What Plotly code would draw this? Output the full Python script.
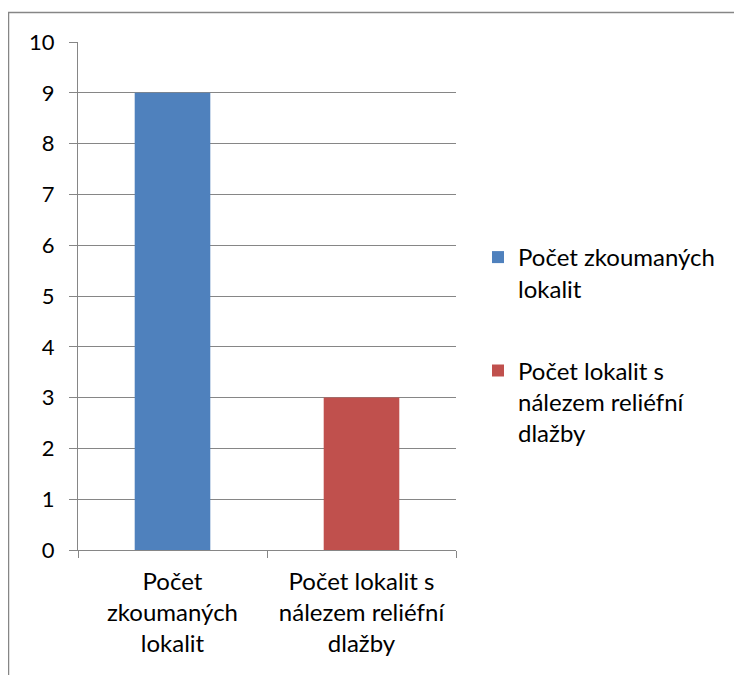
import plotly.graph_objects as go

# data
categories = ["Počet<br>zkoumaných<br>lokalit", "Počet lokalit s<br>nálezem reliéfní<br>dlažby"]
series_names = ["Počet zkoumaných<br>lokalit", "Počet lokalit s<br>nálezem reliéfní<br>dlažby"]
values = [9, 3]
colors = ["#4F81BD", "#C0504D"]

W, H = 742, 675
L, R, T, B = 70, 294, 34, 133
pw, ph = W - L - R, H - T - B

fig = go.Figure()
for i in range(2):
    fig.add_trace(go.Bar(
        x=[categories[i]], y=[values[i]], name=series_names[i],
        marker=dict(color=colors[i], line=dict(width=0)),
        legendgroup=str(i),
    ))

def px_x(p):
    return (p - L) / pw

def px_y(p):
    return (H - B - p) / ph

fig.update_layout(
    width=W, height=H,
    margin=dict(l=L, r=R, t=T, b=B),
    paper_bgcolor="white", plot_bgcolor="white",
    font=dict(family="Lato", size=24, color="black"),
    barmode="overlay",
    bargap=0.6,
    legend=dict(x=px_x(470), y=px_y(227), xanchor="left", yanchor="top",
                tracegroupgap=48, font=dict(size=24), valign="top",
                bgcolor="rgba(0,0,0,0)"),
    showlegend=True,
    shapes=[dict(type="rect", xref="paper", yref="paper",
                 x0=px_x(0.5), x1=px_x(760), y0=px_y(4.5), y1=px_y(720),
                 line=dict(color="#868686", width=1.5), fillcolor="rgba(0,0,0,0)", layer="below")],
)
fig.update_xaxes(
    categoryorder="array", categoryarray=categories,
    showline=True, linecolor="#868686", linewidth=1,
    ticks="outside", tickson="boundaries", ticklen=7, tickcolor="#868686",
    showgrid=False, tickfont=dict(size=24), ticklabelstandoff=10,
)
fig.update_yaxes(
    range=[0, 10], dtick=1,
    showline=True, linecolor="#868686", linewidth=1,
    ticks="outside", ticklen=8, tickcolor="#868686",
    showgrid=True, gridcolor="#868686", gridwidth=1,
    tickfont=dict(size=22), zeroline=False, ticklabelstandoff=10,
)

fig.write_html("out.html")
